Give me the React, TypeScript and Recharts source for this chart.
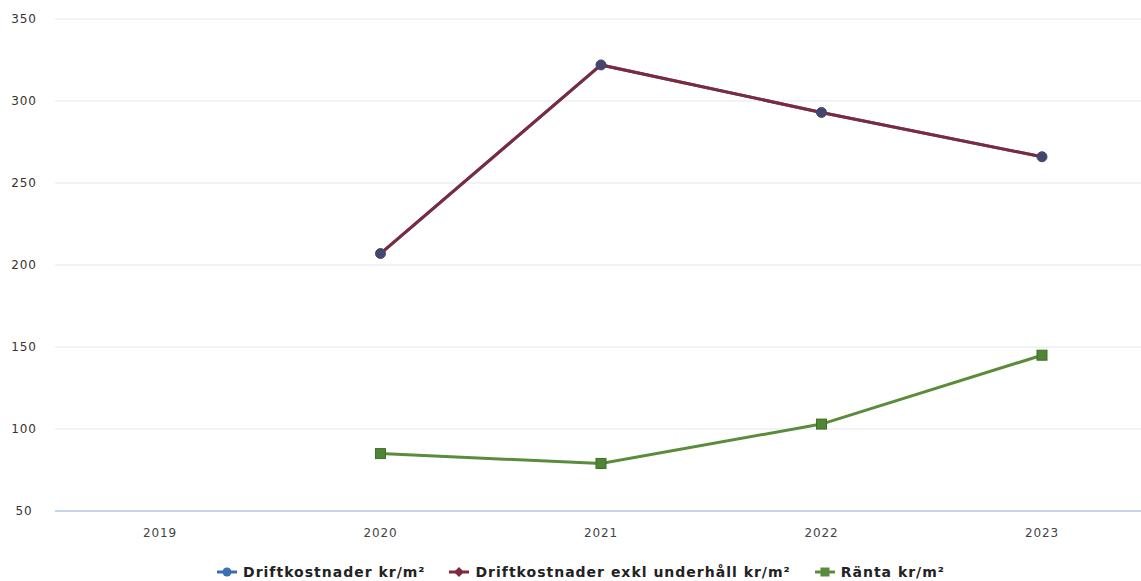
import React from "react";
import { LineChart, Line, XAxis, YAxis, CartesianGrid, Legend } from "recharts";

const years = [2019, 2020, 2021, 2022, 2023];
const drift: (number | null)[] = [null, 207, 322, 293, 266];
const driftExkl: (number | null)[] = [null, 207, 322, 293, 266];
const ranta: (number | null)[] = [null, 85, 79, 103, 145];
const yTicks = [50, 100, 150, 200, 250, 300, 350];

const seriesNames = ["Driftkostnader kr/m²", "Driftkostnader exkl underhåll kr/m²", "Ränta kr/m²"];
const colors = ["#3b6fb0", "#7e2a3a", "#5a8c3c"];

const data = years.map((y, i) => ({ year: y, a: drift[i], b: driftExkl[i], c: ranta[i] }));

const YTick = (props: any) => {
  const { y, payload } = props;
  return (
    <text x={24} y={y} dy={4} textAnchor="middle" fontFamily="DejaVu Sans" fontSize={12} letterSpacing={0.8} fill="#333">
      {payload.value}
    </text>
  );
};

const XTick = (props: any) => {
  const { x, y, payload } = props;
  return (
    <text x={x} y={y} dy={18} textAnchor="middle" fontFamily="DejaVu Sans" fontSize={12} letterSpacing={0.8} fill="#444">
      {payload.value}
    </text>
  );
};

const Sym = ({ i }: { i: number }) => {
  const c = colors[i];
  return (
    <svg width={22} height={12} style={{ marginRight: 5 }}>
      <line x1={1} y1={6} x2={21} y2={6} stroke={c} strokeWidth={3} />
      {i === 0 && <circle cx={11} cy={6} r={4.5} fill={c} />}
      {i === 1 && <path d="M11 1 L16 6 L11 11 L6 6 Z" fill={c} />}
      {i === 2 && <rect x={6.5} y={1.5} width={9} height={9} fill={c} />}
    </svg>
  );
};

const LegendContent = () => (
  <div style={{ display: "flex", justifyContent: "center", alignItems: "center", gap: 23, paddingTop: 24, paddingLeft: 20 }}>
    {seriesNames.map((n, i) => (
      <div key={n} style={{ display: "flex", alignItems: "center" }}>
        <Sym i={i} />
        <span style={{ fontFamily: "DejaVu Sans", fontWeight: "bold", fontSize: 14, letterSpacing: 1, color: "#222", lineHeight: "18px" }}>{n}</span>
      </div>
    ))}
  </div>
);

const SquareDot = (props: any) => {
  const { cx, cy } = props;
  if (cx == null || cy == null) return null;
  return <rect x={cx - 5} y={cy - 5} width={10} height={10} fill="#4f8535" stroke="#3f6e2a" strokeWidth={1} />;
};

export default function App() {
  return (
    <div style={{ position: "absolute", left: 0, top: 0, background: "#fff" }}>
      <LineChart width={1141} height={581} data={data} margin={{ top: 19, right: 0, bottom: 0, left: 0 }}>
        <CartesianGrid horizontal vertical={false} stroke="#e2e5ec" strokeWidth={1} />
        <XAxis
          dataKey="year"
          type="number"
          domain={[2018.524, 2023.449]}
          ticks={years}
          allowDataOverflow
          tick={<XTick />}
          tickLine={false}
          axisLine={{ stroke: "#b9cde0", strokeWidth: 1.5 }}
          height={30}
        />
        <YAxis
          domain={[50, 350]}
          ticks={yTicks}
          tick={<YTick />}
          width={55}
          axisLine={false}
          tickLine={false}
        />
        <Legend verticalAlign="bottom" height={40} content={<LegendContent />} wrapperStyle={{ bottom: 2 }} />
        <Line
          dataKey="a"
          name={seriesNames[0]}
          stroke={colors[0]}
          strokeWidth={3}
          dot={{ r: 5, fill: "#45466e", stroke: "#45466e", strokeWidth: 1 }}
          isAnimationActive={false}
        />
        <Line
          dataKey="b"
          name={seriesNames[1]}
          stroke={colors[1]}
          strokeWidth={3}
          dot={false}
          isAnimationActive={false}
        />
        <Line
          dataKey="c"
          name={seriesNames[2]}
          stroke={colors[2]}
          strokeWidth={3}
          dot={<SquareDot />}
          isAnimationActive={false}
        />
      </LineChart>
    </div>
  );
}
